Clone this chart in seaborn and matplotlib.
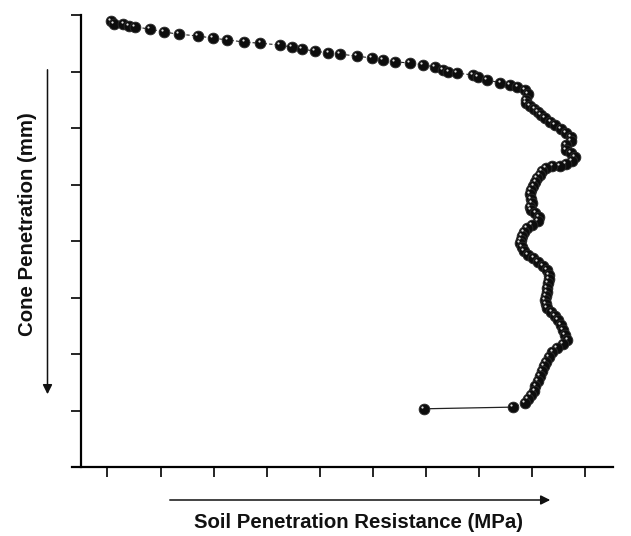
import numpy as np
import pandas as pd
import matplotlib
matplotlib.use('Agg')
import matplotlib.pyplot as plt
import matplotlib.transforms as mtransforms
import seaborn as sns

# values: resistance in MPa, depth in mm
resistance_mpa = [0.03, 0.06, 0.15, 0.20, 0.26, 0.40, 0.53, 0.67, 0.85, 0.99,
                  1.13, 1.29, 1.44, 1.62, 1.74, 1.83, 1.95, 2.08, 2.19, 2.35,
                  2.49, 2.59, 2.71, 2.85, 2.97, 3.08, 3.16, 3.21, 3.29, 3.44,
                  3.49, 3.57, 3.70, 3.79, 3.86, 3.93, 3.96, 3.94, 3.94, 3.98,
                  4.02, 4.05, 4.08, 4.12, 4.17, 4.21, 4.27, 4.32, 4.36, 4.36,
                  4.32, 4.32, 4.36, 4.40, 4.37, 4.32, 4.26, 4.19, 4.13, 4.09,
                  4.07, 4.04, 4.03, 4.01, 3.99, 3.98, 3.99, 4.00, 3.98, 3.99,
                  4.03, 4.06, 4.05, 4.00, 3.95, 3.92, 3.90, 3.89, 3.88, 3.90,
                  3.92, 3.96, 4.01, 4.05, 4.10, 4.14, 4.16, 4.16, 4.15, 4.14,
                  4.14, 4.13, 4.12, 4.13, 4.14, 4.18, 4.21, 4.24, 4.27, 4.29,
                  4.31, 4.33, 4.29, 4.23, 4.19, 4.16, 4.13, 4.11, 4.09, 4.07,
                  4.05, 4.03, 4.02, 3.99, 3.96, 3.93, 3.82, 2.98]
depth_mm = [1.1, 1.6, 1.6, 1.9, 2.1, 2.5, 3.0, 3.4, 3.7, 4.1,
            4.4, 4.8, 5.0, 5.3, 5.7, 6.0, 6.4, 6.7, 6.9, 7.3,
            7.6, 8.0, 8.3, 8.5, 8.8, 9.2, 9.7, 10.1, 10.3, 10.6,
            11.0, 11.5, 12.0, 12.4, 12.7, 13.3, 14.0, 15.0, 15.6, 16.1,
            16.6, 17.2, 17.7, 18.2, 18.9, 19.5, 20.2, 20.9, 21.6, 22.3,
            23.0, 23.9, 24.4, 25.1, 25.8, 26.4, 26.7, 26.7, 27.1, 27.6,
            28.3, 28.8, 29.6, 30.3, 31.0, 31.7, 32.6, 33.3, 34.0, 34.5,
            35.0, 35.8, 36.5, 37.2, 37.7, 38.4, 39.1, 39.8, 40.4, 41.1,
            41.8, 42.5, 43.0, 43.7, 44.4, 45.1, 46.0, 46.7, 47.4, 48.3,
            49.0, 49.7, 50.4, 51.2, 51.9, 52.6, 53.3, 54.0, 54.9, 55.8,
            56.6, 57.5, 58.2, 58.9, 59.6, 60.5, 61.4, 62.1, 63.0, 63.9,
            64.8, 65.7, 66.5, 67.3, 68.0, 68.7, 69.4, 69.7]

x_ticks = np.arange(0, 4.51, 0.5)
y_ticks = np.arange(0, 81, 10)

df = pd.DataFrame({'resistance': resistance_mpa, 'depth': depth_mm})

sns.set_style('ticks')
plt.rcParams['font.family'] = ['Liberation Sans', 'DejaVu Sans']

fig = plt.figure(figsize=(6.31, 5.36), dpi=100)
ax = fig.add_axes([72 / 631, 69 / 536, (613 - 72) / 631, 452 / 536])

# dashed connecting line, solid for the last (outlier) step
sns.lineplot(data=df.iloc[:-1], x='resistance', y='depth', sort=False, estimator=None,
             ax=ax, color='#222222', lw=0.8, linestyle=(0, (3, 2)))
sns.lineplot(data=df.iloc[-2:], x='resistance', y='depth', sort=False, estimator=None,
             ax=ax, color='#222222', lw=0.9)

# dark sphere markers with small highlight
sns.scatterplot(data=df, x='resistance', y='depth', ax=ax, s=60,
                color='#0d0d0d', edgecolor='#2a2a2a', linewidth=0.6, zorder=3)
shine = mtransforms.offset_copy(ax.transData, fig=fig, x=-1.3, y=1.3, units='points')
ax.scatter(df['resistance'], df['depth'], s=2.5, color='#e0e0e0', transform=shine,
           zorder=4, linewidths=0)

# x axis runs a little past the y axis on the left, as in the original
ax.set_xlim(-0.334, 4.76)
ax.spines['left'].set_position(('data', -0.25))
ax.set_ylim(80, 0)
ax.set_xticks(x_ticks)
ax.set_yticks(y_ticks)
ax.set_xticklabels([])
ax.set_yticklabels([])
ax.set_xlabel('')
ax.set_ylabel('')
ax.tick_params(length=7, width=1.2, color='black')
for side in ['top', 'right']:
    ax.spines[side].set_visible(False)
for side in ['left', 'bottom']:
    ax.spines[side].set_linewidth(1.6)
    ax.spines[side].set_color('black')

# axis titles and direction arrows
fig.text(359 / 631, 13 / 536, 'Soil Penetration Resistance (MPa)', ha='center', va='center',
         fontsize=14.7, fontweight='bold', color='#111111')
fig.text(28 / 631, 312 / 536, 'Cone Penetration (mm)', ha='center', va='center',
         rotation=90, fontsize=14.7, fontweight='bold', color='#111111')
ax.annotate('', xy=(553, 36), xytext=(167, 36), xycoords='figure pixels',
            arrowprops=dict(arrowstyle='-|>', color='#111111', lw=1.1, mutation_scale=14))
ax.annotate('', xy=(47.5, 139), xytext=(47.5, 469), xycoords='figure pixels',
            arrowprops=dict(arrowstyle='-|>', color='#111111', lw=1.1, mutation_scale=14))

plt.savefig('out.png', dpi=100)
plt.close()
